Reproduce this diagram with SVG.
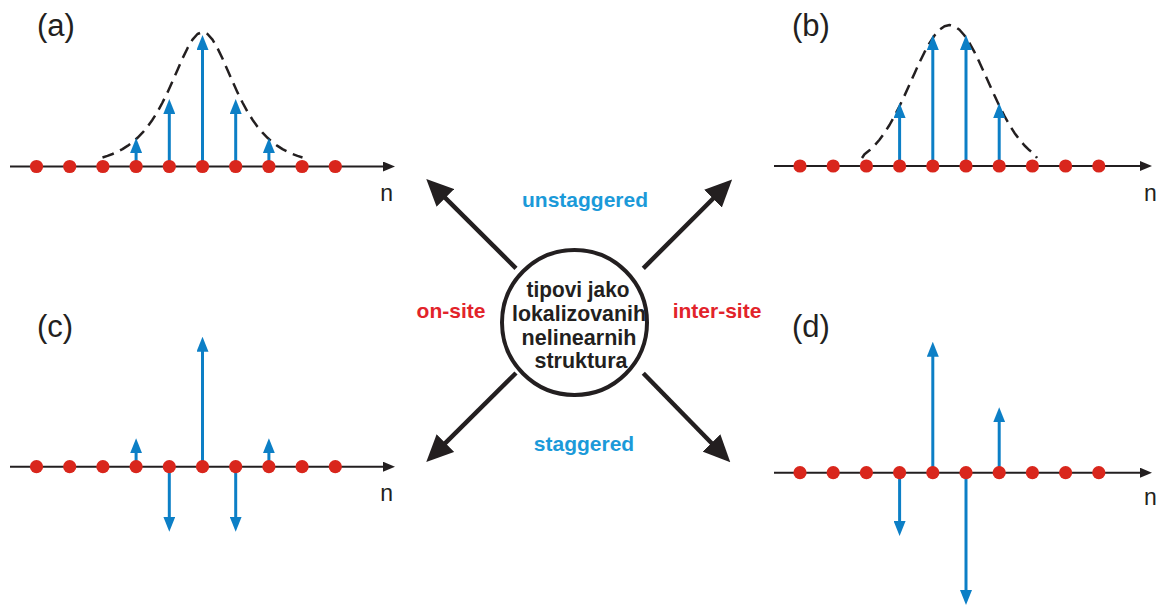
<svg xmlns="http://www.w3.org/2000/svg" width="1156" height="606" viewBox="0 0 1156 606">
<style>
.axis{stroke:#231f20;stroke-width:2;fill:none}
.dot{fill:#d9261c}
.amp{stroke:#0c7fc6;stroke-width:3;fill:none}
.env{stroke:#231f20;stroke-width:2.5;fill:none;stroke-dasharray:12 7;stroke-linejoin:round}
.lbl{font-family:"Liberation Sans",Arial,sans-serif;font-size:31px;fill:#231f20}
.n{font-family:"Liberation Sans",Arial,sans-serif;font-size:23px;fill:#231f20}
.big{stroke:#231f20;stroke-width:4.5;fill:none}
.ctext{font-family:"Liberation Sans",Arial,sans-serif;font-weight:bold;font-size:22px;fill:#231f20;text-anchor:middle}
.blue{font-family:"Liberation Sans",Arial,sans-serif;font-weight:bold;font-size:21px;fill:#1b9ad9;text-anchor:middle}
.red{font-family:"Liberation Sans",Arial,sans-serif;font-weight:bold;font-size:21px;fill:#e2232a;text-anchor:middle}
</style>
<defs>
<marker id="ah" markerUnits="userSpaceOnUse" viewBox="0 0 15 12" markerWidth="15" markerHeight="12" refX="5" refY="6" orient="auto">
<path d="M0,0 L15,6 L0,12 z" fill="#0c7fc6"/>
</marker>
<marker id="ax" markerUnits="userSpaceOnUse" viewBox="0 0 12 10" markerWidth="12" markerHeight="10" refX="6" refY="5" orient="auto">
<path d="M0,0 L12,5 L0,10 z" fill="#231f20"/>
</marker>
<marker id="bh" markerUnits="userSpaceOnUse" viewBox="0 0 27 25" markerWidth="27" markerHeight="25" refX="13" refY="12.5" orient="auto">
<path d="M0,0 L27,12.5 L0,25 z" fill="#231f20"/>
</marker>
<g id="row">
<circle class="dot" cx="36.5" cy="0" r="6.6"/>
<circle class="dot" cx="69.7" cy="0" r="6.6"/>
<circle class="dot" cx="102.9" cy="0" r="6.6"/>
<circle class="dot" cx="136.1" cy="0" r="6.6"/>
<circle class="dot" cx="169.3" cy="0" r="6.6"/>
<circle class="dot" cx="202.5" cy="0" r="6.6"/>
<circle class="dot" cx="235.7" cy="0" r="6.6"/>
<circle class="dot" cx="268.9" cy="0" r="6.6"/>
<circle class="dot" cx="302.1" cy="0" r="6.6"/>
<circle class="dot" cx="335.3" cy="0" r="6.6"/>
</g>
</defs>

<g id="panel-a">
<text class="lbl" x="37" y="36">(a)</text>
<path class="env" d="M102.5,157.5 L107.5,155.9 L112.5,154 L117.5,151.7 L122.5,149.1 L127.5,145.9 L132.5,142.1 L137.5,137.8 L142.5,132.7 L147.5,126.7 L152.5,119.7 L157.5,111.7 L162.5,102.5 L167.5,92.4 L172.5,81.3 L177.5,70 L182.5,58.5 L187.5,48.2 L192.5,39.6 L197.5,34 L202.5,32 L207.5,34 L212.5,39.6 L217.5,48.2 L222.5,58.5 L227.5,70 L232.5,81.3 L237.5,92.4 L242.5,102.5 L247.5,111.7 L252.5,119.7 L257.5,126.7 L262.5,132.7 L267.5,137.8 L272.5,142.1 L277.5,145.9 L282.5,149.1 L287.5,151.7 L292.5,154 L297.5,155.9 L302.5,157.5"/>
<line class="axis" x1="10" y1="166.5" x2="389" y2="166.5" marker-end="url(#ax)"/>
<line class="amp" x1="136.1" y1="166.5" x2="136.1" y2="148" marker-end="url(#ah)"/>
<line class="amp" x1="169.3" y1="166.5" x2="169.3" y2="109" marker-end="url(#ah)"/>
<line class="amp" x1="202.5" y1="166.5" x2="202.5" y2="45" marker-end="url(#ah)"/>
<line class="amp" x1="235.7" y1="166.5" x2="235.7" y2="109" marker-end="url(#ah)"/>
<line class="amp" x1="268.9" y1="166.5" x2="268.9" y2="148" marker-end="url(#ah)"/>
<use href="#row" x="0" y="166.5"/>
<text class="n" x="393" y="201" text-anchor="end">n</text>
</g>

<g id="panel-b">
<text class="lbl" x="792" y="36">(b)</text>
<path class="env" d="M862,158 L864.5,154.2 L869.5,150.3 L874.5,145.5 L879.5,139.7 L884.5,132.9 L889.5,125 L894.5,116 L899.5,106.2 L904.5,95.6 L909.5,84.5 L914.5,73.4 L919.5,62.4 L924.5,52.2 L929.5,43.1 L934.5,35.5 L939.5,29.8 L944.5,26.2 L949.5,25 L954.5,26.2 L959.5,29.8 L964.5,35.5 L969.5,43.1 L974.5,52.2 L979.5,62.4 L984.5,73.4 L989.5,84.5 L994.5,95.6 L999.5,106.2 L1004.5,116 L1009.5,125 L1014.5,132.9 L1019.5,139.7 L1024.5,145.5 L1029.5,150.3 L1034.5,154.2 L1037,158"/>
<line class="axis" x1="774" y1="166" x2="1146" y2="166" marker-end="url(#ax)"/>
<line class="amp" x1="899.6" y1="166" x2="899.6" y2="113" marker-end="url(#ah)"/>
<line class="amp" x1="932.8" y1="166" x2="932.8" y2="45" marker-end="url(#ah)"/>
<line class="amp" x1="966" y1="166" x2="966" y2="45" marker-end="url(#ah)"/>
<line class="amp" x1="999.2" y1="166" x2="999.2" y2="113" marker-end="url(#ah)"/>
<use href="#row" x="763.5" y="166"/>
<text class="n" x="1144" y="201">n</text>
</g>

<g id="panel-c">
<text class="lbl" x="37" y="337">(c)</text>
<line class="axis" x1="10" y1="466.7" x2="389" y2="466.7" marker-end="url(#ax)"/>
<line class="amp" x1="136.1" y1="466.7" x2="136.1" y2="448.3" marker-end="url(#ah)"/>
<line class="amp" x1="169.3" y1="466.7" x2="169.3" y2="521.7" marker-end="url(#ah)"/>
<line class="amp" x1="202.5" y1="466.7" x2="202.5" y2="346.7" marker-end="url(#ah)"/>
<line class="amp" x1="235.7" y1="466.7" x2="235.7" y2="521.7" marker-end="url(#ah)"/>
<line class="amp" x1="268.9" y1="466.7" x2="268.9" y2="448.3" marker-end="url(#ah)"/>
<use href="#row" x="0" y="466.7"/>
<text class="n" x="393" y="501" text-anchor="end">n</text>
</g>

<g id="panel-d">
<text class="lbl" x="792" y="337">(d)</text>
<line class="axis" x1="774" y1="472.7" x2="1146" y2="472.7" marker-end="url(#ax)"/>
<line class="amp" x1="899.6" y1="472.7" x2="899.6" y2="526" marker-end="url(#ah)"/>
<line class="amp" x1="932.8" y1="472.7" x2="932.8" y2="351.7" marker-end="url(#ah)"/>
<line class="amp" x1="966" y1="472.7" x2="966" y2="595" marker-end="url(#ah)"/>
<line class="amp" x1="999.2" y1="472.7" x2="999.2" y2="417.3" marker-end="url(#ah)"/>
<use href="#row" x="763.5" y="472.7"/>
<text class="n" x="1144" y="505">n</text>
</g>

<g id="center">
<circle cx="574.5" cy="322.5" r="72.5" fill="#ffffff" stroke="#231f20" stroke-width="4"/>
<text class="ctext" x="578" y="297" textLength="103" lengthAdjust="spacingAndGlyphs">tipovi jako</text>
<text class="ctext" x="579" y="321" textLength="134" lengthAdjust="spacingAndGlyphs">lokalizovanih</text>
<text class="ctext" x="579" y="345" textLength="115" lengthAdjust="spacingAndGlyphs">nelinearnih</text>
<text class="ctext" x="581" y="368" textLength="93" lengthAdjust="spacingAndGlyphs">struktura</text>
</g>

<g id="connectors">
<line class="big" x1="516" y1="268.3" x2="436.2" y2="188.8" marker-end="url(#bh)"/>
<line class="big" x1="643.3" y1="268.3" x2="722.2" y2="189.5" marker-end="url(#bh)"/>
<line class="big" x1="516" y1="373" x2="436.2" y2="452.2" marker-end="url(#bh)"/>
<line class="big" x1="643.3" y1="373.3" x2="720.5" y2="452.2" marker-end="url(#bh)"/>
</g>

<g id="labels">
<text class="blue" x="585" y="207">unstaggered</text>
<text class="blue" x="584" y="451">staggered</text>
<text class="red" x="451" y="318">on-site</text>
<text class="red" x="717" y="318">inter-site</text>
</g>
</svg>
